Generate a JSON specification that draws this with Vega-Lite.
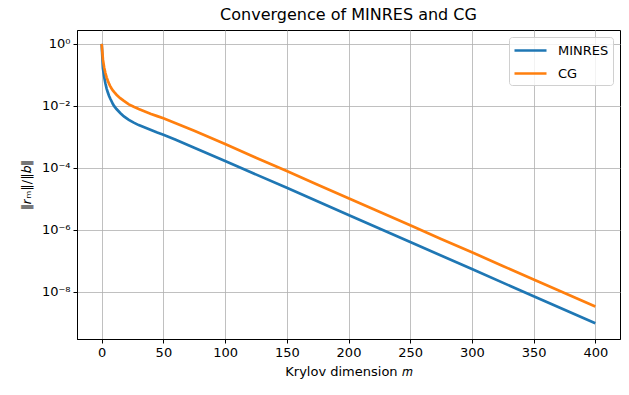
{
  "$schema": "https://vega.github.io/schema/vega-lite/v6.json",
  "autosize": {"type": "none"},
  "padding": {"left": 77, "top": 30, "right": 9, "bottom": 56},
  "width": 543,
  "height": 309,
  "title": {"text": "Convergence of MINRES and CG", "fontSize": 16, "fontWeight": "normal", "font": "DejaVu Sans", "color": "black", "anchor": "middle", "offset": 7},
  "data": {"values": [
    {"m": 0, "r": 1, "method": "MINRES"},
    {"m": 1, "r": 0.166, "method": "MINRES"},
    {"m": 2, "r": 0.0871, "method": "MINRES"},
    {"m": 3, "r": 0.0537, "method": "MINRES"},
    {"m": 4, "r": 0.0363, "method": "MINRES"},
    {"m": 5, "r": 0.0269, "method": "MINRES"},
    {"m": 6, "r": 0.0209, "method": "MINRES"},
    {"m": 7, "r": 0.017, "method": "MINRES"},
    {"m": 8, "r": 0.0141, "method": "MINRES"},
    {"m": 9, "r": 0.0117, "method": "MINRES"},
    {"m": 10, "r": 0.01, "method": "MINRES"},
    {"m": 12, "r": 0.00794, "method": "MINRES"},
    {"m": 15, "r": 0.00589, "method": "MINRES"},
    {"m": 18, "r": 0.00457, "method": "MINRES"},
    {"m": 22, "r": 0.00355, "method": "MINRES"},
    {"m": 26, "r": 0.00288, "method": "MINRES"},
    {"m": 30, "r": 0.0024, "method": "MINRES"},
    {"m": 35, "r": 0.002, "method": "MINRES"},
    {"m": 40, "r": 0.00166, "method": "MINRES"},
    {"m": 45, "r": 0.00138, "method": "MINRES"},
    {"m": 50, "r": 0.00117, "method": "MINRES"},
    {"m": 60, "r": 0.000813, "method": "MINRES"},
    {"m": 75, "r": 0.000447, "method": "MINRES"},
    {"m": 100, "r": 0.000166, "method": "MINRES"},
    {"m": 150, "r": 2.29e-5, "method": "MINRES"},
    {"m": 200, "r": 3.02e-6, "method": "MINRES"},
    {"m": 250, "r": 4.07e-7, "method": "MINRES"},
    {"m": 300, "r": 5.5e-8, "method": "MINRES"},
    {"m": 350, "r": 7.24e-9, "method": "MINRES"},
    {"m": 400, "r": 9.77e-10, "method": "MINRES"},
    {"m": 0, "r": 1, "method": "CG"},
    {"m": 1, "r": 0.316, "method": "CG"},
    {"m": 2, "r": 0.174, "method": "CG"},
    {"m": 3, "r": 0.115, "method": "CG"},
    {"m": 4, "r": 0.0832, "method": "CG"},
    {"m": 5, "r": 0.0646, "method": "CG"},
    {"m": 6, "r": 0.0513, "method": "CG"},
    {"m": 7, "r": 0.0427, "method": "CG"},
    {"m": 8, "r": 0.0363, "method": "CG"},
    {"m": 9, "r": 0.0316, "method": "CG"},
    {"m": 10, "r": 0.0282, "method": "CG"},
    {"m": 12, "r": 0.0229, "method": "CG"},
    {"m": 15, "r": 0.0178, "method": "CG"},
    {"m": 18, "r": 0.0145, "method": "CG"},
    {"m": 22, "r": 0.0112, "method": "CG"},
    {"m": 26, "r": 0.00933, "method": "CG"},
    {"m": 30, "r": 0.00794, "method": "CG"},
    {"m": 35, "r": 0.00661, "method": "CG"},
    {"m": 40, "r": 0.0055, "method": "CG"},
    {"m": 45, "r": 0.00468, "method": "CG"},
    {"m": 50, "r": 0.00398, "method": "CG"},
    {"m": 60, "r": 0.00275, "method": "CG"},
    {"m": 75, "r": 0.00158, "method": "CG"},
    {"m": 100, "r": 0.000589, "method": "CG"},
    {"m": 125, "r": 0.000214, "method": "CG"},
    {"m": 150, "r": 7.94e-5, "method": "CG"},
    {"m": 175, "r": 2.88e-5, "method": "CG"},
    {"m": 200, "r": 1.05e-5, "method": "CG"},
    {"m": 225, "r": 3.89e-6, "method": "CG"},
    {"m": 250, "r": 1.41e-6, "method": "CG"},
    {"m": 275, "r": 5.13e-7, "method": "CG"},
    {"m": 300, "r": 1.91e-7, "method": "CG"},
    {"m": 325, "r": 6.92e-8, "method": "CG"},
    {"m": 350, "r": 2.51e-8, "method": "CG"},
    {"m": 375, "r": 9.33e-9, "method": "CG"},
    {"m": 400, "r": 3.39e-9, "method": "CG"}
  ]},
  "encoding": {
    "x": {"field": "m", "type": "quantitative",
      "scale": {"domain": [-20, 420], "nice": false, "zero": false},
      "axis": {"values": [0, 50, 100, 150, 200, 250, 300, 350, 400], "title": "Krylov dimension 𝑚", "titlePadding": 6}},
    "y": {"field": "r", "type": "quantitative",
      "scale": {"type": "log", "domain": [3.05e-10, 2.8], "nice": false},
      "axis": {"values": [1e-8, 1e-6, 1e-4, 1e-2, 1], "title": "‖𝑟ₘ‖/‖𝑏‖", "titlePadding": 8,
        "labelExpr": "datum.value >= 0.5 ? '10⁰' : datum.value >= 0.005 ? '10⁻²' : datum.value >= 0.00005 ? '10⁻⁴' : datum.value >= 5e-7 ? '10⁻⁶' : '10⁻⁸'"}},
    "color": {"field": "method", "type": "nominal",
      "scale": {"domain": ["MINRES", "CG"], "range": ["#1f77b4", "#ff7f0e"]},
      "legend": {"title": null, "orient": "top-right", "offset": 7, "symbolType": "M-1,0H3", "symbolSize": 256, "symbolStrokeWidth": 2.7,
        "labelFontSize": 13, "labelFont": "DejaVu Sans", "labelColor": "black", "rowPadding": 6, "padding": 4,
        "strokeColor": "#d0d0d0", "fillColor": "rgba(255,255,255,0.8)", "cornerRadius": 3, "labelOffset": 26}}
  },
  "layer": [
    {"transform": [{"filter": "datum.method === 'MINRES'"}], "mark": {"type": "line", "strokeWidth": 2.7, "clip": true}},
    {"transform": [{"filter": "datum.method === 'CG'"}], "mark": {"type": "line", "strokeWidth": 2.7, "clip": true}}
  ],
  "config": {
    "font": "DejaVu Sans",
    "view": {"stroke": "black", "strokeWidth": 1},
    "legend": {"symbolBaseFillColor": "transparent", "symbolFillColor": "transparent"},
    "axis": {"gridColor": "#b0b0b0", "gridWidth": 0.8, "gridOpacity": 1, "domainColor": "black", "domainWidth": 1, "tickColor": "black", "tickSize": 4, "tickWidth": 1,
      "labelColor": "black", "labelFont": "DejaVu Sans", "labelFontSize": 13, "labelPadding": 3, "titleFont": "DejaVu Sans", "titleFontSize": 13, "titleFontWeight": "normal", "titleColor": "black"}
  }
}
